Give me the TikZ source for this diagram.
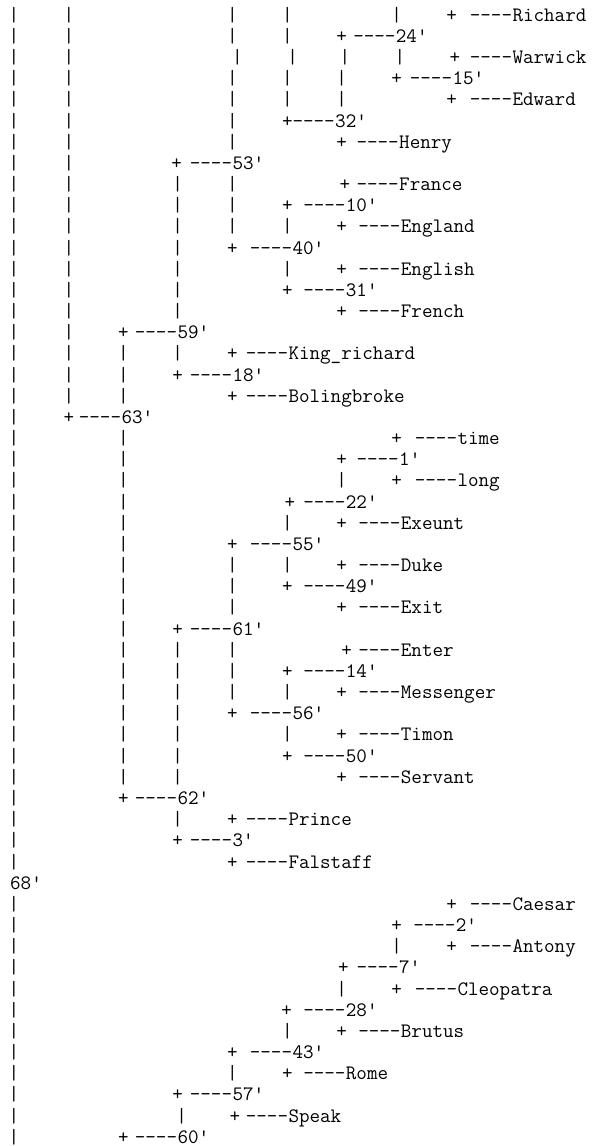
\documentclass[tikz,border=0pt]{standalone}
\newcommand{\tk}{\textquotesingle}
\newcommand{\dsh}{\mbox{-}\mbox{-}\mbox{-}\mbox{-}}

\begin{document}
\begin{tikzpicture}[x=1pt, y=-1pt,
  txt/.style={font=\ttfamily\fontsize{20.5}{24}\selectfont, inner sep=0pt, text=black},
  bar/.style={txt, anchor=base},
  knot/.style={txt, anchor=base},
  rule/.style={txt, anchor=base east},
  lab/.style={txt, anchor=base west}]
\useasboundingbox (0,0) rectangle (594,1146);
% vertical bars, row by row
\foreach \r/\xs in {1/{14,69,232.3,287.3,396.7}, 2/{14,69,232.3,287.3},
  3/{14,69,237.3,292.7,345,400}, 4/{14,69,232.3,287.3,341.7},
  5/{14,69,232.3,287.3,341.7}, 6/{14,69,232.3}, 7/{14,69,232.3}, 8/{14,69},
  9/{14,69,177.7,232.3}, 10/{14,69,177.7,232.3}, 11/{14,69,177.7,232.3,287.3},
  12/{14,69,177.7}, 13/{14,69,177.7,287.3}, 14/{14,69,177.7}, 15/{14,69,177.7},
  16/{14,69}, 17/{14,69,123.3,177.7}, 18/{14,69,123.3}, 19/{14,69,123.3},
  20/{14}, 21/{14,123.3}, 22/{14,123.3}, 23/{14,123.3,341.7}, 24/{14,123.3},
  25/{14,123.3,287.3}, 26/{14,123.3}, 27/{14,123.3,232.3,287.3},
  28/{14,123.3,232.3}, 29/{14,123.3,232.3}, 30/{14,123.3},
  31/{14,123.3,177.7,232.3}, 32/{14,123.3,177.7,232.3},
  33/{14,123.3,177.7,232.3,287.3}, 34/{14,123.3,177.7},
  35/{14,123.3,177.7,287.3}, 36/{14,123.3,177.7}, 37/{14,123.3,177.7},
  38/{14}, 39/{14,177.7}, 40/{14}, 41/{14},
  43/{14}, 44/{14}, 45/{14,396.7}, 46/{14}, 47/{14,341.7}, 48/{14},
  49/{14,287.3}, 50/{14}, 51/{14,232.3}, 52/{14}, 53/{14,181.7}, 54/{14}} {
  \pgfmathsetmacro\yb{21.2+(\r-1)*21.17}
  \foreach \x [count=\k] in \xs
    \node[bar] (b\r-\k) at (\x,\yb) {|};
}
% joints and labels: row/plus/label/text
\foreach \r/\px/\lx/\t in {1/451.7/513.3/Richard, 2/341.7/396.7/24\tk,
  3/455/513.3/Warwick, 4/396.7/453.3/15\tk, 5/451.7/513.3/Edward,
  6/287.3/336/32\tk, 7/341.7/400/Henry, 8/176.7/233.3/53\tk,
  9/345/400/France, 10/287.3/346.7/10\tk, 11/341.7/401.7/England,
  12/232.3/293.3/40\tk, 13/341.7/401.7/English, 14/287.3/346.7/31\tk,
  15/341.7/401.7/French, 16/123.3/178.3/59\tk, 17/232.3/289.3/King\_richard,
  18/177.7/233.3/18\tk, 19/232.3/289.3/Bolingbroke, 20/69/122.3/63\tk,
  21/396.7/458.3/time, 22/341.7/400/1\tk, 23/396.7/458.3/long,
  24/290/346.7/22\tk, 25/341.7/401.7/Exeunt, 26/232.3/293.3/55\tk,
  27/341.7/401.7/Duke, 28/287.3/346.7/49\tk, 29/341.7/401.7/Exit,
  30/177.7/233.3/61\tk, 31/346.7/401.7/Enter, 32/287.3/346.7/14\tk,
  33/341.7/401.7/Messenger, 34/232.3/293.3/56\tk, 35/341.7/401.7/Timon,
  36/287.3/346.7/50\tk, 37/341.7/401.7/Servant, 38/123.3/178.3/62\tk,
  39/232.3/289.3/Prince, 40/177.7/233.3/3\tk, 41/232.3/289.3/Falstaff,
  43/451.7/513.3/Caesar, 44/396.7/456.7/2\tk, 45/451.7/513.3/Antony,
  46/343.3/400/7\tk, 47/396.7/458.3/Cleopatra, 48/286.7/346.7/28\tk,
  49/341.7/401.7/Brutus, 50/232.3/293.3/43\tk, 51/287.3/346.7/Rome,
  52/177.7/233.3/57\tk, 53/235/289.3/Speak, 54/123.3/178.3/60\tk} {
  \pgfmathsetmacro\yb{21.2+(\r-1)*21.17}
  \node[knot] (p\r) at (\px,\yb) {+};
  \node[lab] (n\r) at (\lx-1,\yb) {\t};
  \node[rule] (d\r) at (n\r.base west) {\dsh};
}
% the root, without a joint
\node[lab] (n42) at (10,889.2) {68\tk};
\end{tikzpicture}
\end{document}
